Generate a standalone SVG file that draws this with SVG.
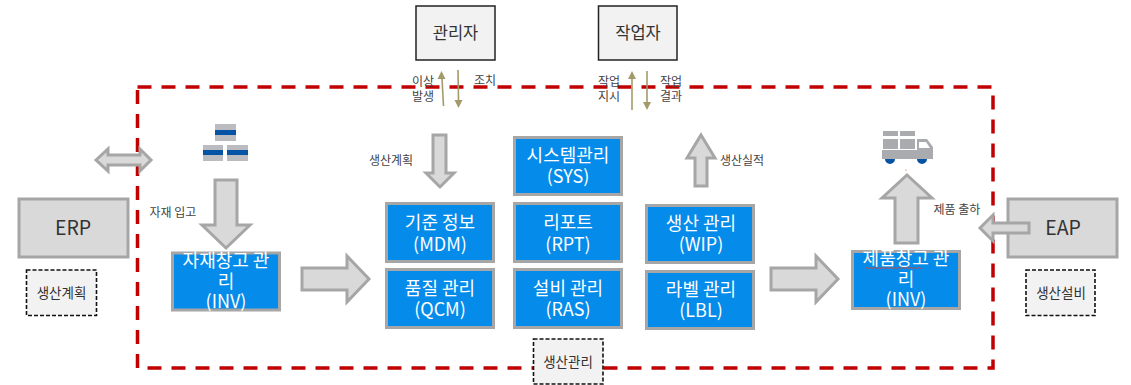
<svg xmlns="http://www.w3.org/2000/svg" width="1131" height="385" viewBox="0 0 1131 385">
<style>
text{font-family:"Noto Sans CJK KR","Noto Sans",sans-serif;text-anchor:middle}
.blue rect{fill:#058CEA;stroke:#A6A6A6;stroke-width:3}
.blue text{fill:#fff;font-size:18px}
.gray rect{fill:#D9D9D9;stroke:#A6A6A6;stroke-width:3}
.gray text{fill:#333;font-size:19.5px}
.white rect{fill:#F2F2F2;stroke:#222;stroke-width:1.5}
.white text{fill:#333;font-size:16.5px}
.tag rect{fill:#F2F2F2;stroke:#111;stroke-width:1.6;stroke-dasharray:4 2}
.tag text{fill:#333;font-size:13.5px}
.big{fill:#D9D9D9;stroke:#A6A6A6;stroke-width:3}
.thin{stroke:#A39A6B;stroke-width:1.6;fill:none}
.head{fill:#A39A6B}
.lbl{fill:#444;font-size:12px}
.ico{fill:#A9ABAF}
.band{fill:#0553A5}
</style>
<rect id="boundary" x="137.5" y="87" width="855.5" height="281" fill="none" stroke="#C00000" stroke-width="3.5" stroke-dasharray="14 10"/>
<g id="erp" class="gray"><rect x="19" y="199" width="109" height="58"/><text x="73" y="235">ERP</text></g>
<g id="eap" class="gray"><rect x="1008" y="199" width="109" height="58"/><text x="1063" y="235">EAP</text></g>
<g id="connectors">
<path class="big" d="M96 160L108 149V155H140V149L151 160L140 171V165H108V171Z"/>
<path class="big" d="M215 180H237V225H250L226 248L202 225H215Z"/>
<path class="big" d="M302 268H347V256L369 279L347 302V290H302Z"/>
<path class="big" d="M433 135H446V173H454L440 187L426 173H433Z"/>
<path class="big" d="M701 135L715 158H707V186H695V158H687Z"/>
<path class="big" d="M771 268H816V256L838 279L816 302V290H771Z"/>
<path class="big" d="M907 175L932 198H918V243H895V198H882Z"/>
<path class="big" d="M980 228L993 215V223H1029V233H993V241Z"/>
<path class="thin" d="M443.500 106L442 78"/><path class="head" d="M441.500 71L445.500 79H437.500Z"/>
<path class="thin" d="M458 70L458.500 100"/><path class="head" d="M458.500 108L454.500 100H462.500Z"/>
<path class="thin" d="M632 110V78"/><path class="head" d="M632 71L636 79H628Z"/>
<path class="thin" d="M647 71V102"/><path class="head" d="M647 110L643 102H651Z"/>
</g>
<g id="stack-icon">
<rect class="ico" x="215" y="124" width="21" height="17" opacity=".8"/><rect class="band" x="215" y="130" width="21" height="5"/>
<rect class="ico" x="203" y="145" width="20" height="16" opacity=".8"/><rect class="band" x="203" y="150" width="20" height="5"/>
<rect class="ico" x="227" y="145" width="21" height="16" opacity=".8"/><rect class="band" x="227" y="150" width="21" height="5"/>
</g>
<g id="truck-icon">
<rect class="ico" x="883" y="131" width="15" height="5"/><rect class="ico" x="900" y="131" width="15" height="5"/>
<rect class="ico" x="883" y="139" width="15" height="10"/><rect class="ico" x="900" y="139" width="15" height="10"/>
<path class="band" d="M885 159a5 5 0 0 0 10 0ZM917 159a5 5 0 0 0 10 0Z"/>
<path class="ico" d="M882 150H917V139H927L933 147V159H882Z"/>
<path fill="#fff" d="M919 142H926L930 148H919Z"/>
<circle cx="906" cy="170" r="1" fill="#F7C9B5"/>
</g>
<g id="manager" class="white"><rect x="416" y="6" width="79" height="54"/><text x="455.500" y="39">관리자</text></g>
<g id="worker" class="white"><rect x="598.500" y="6" width="78.500" height="54"/><text x="638" y="39">작업자</text></g>
<g id="tag-plan" class="tag"><rect x="26.500" y="270" width="70" height="45.500"/><text x="61.500" y="298">생산계획</text></g>
<g id="tag-equip" class="tag"><rect x="1026" y="270" width="69" height="45.500"/><text x="1061" y="298">생산설비</text></g>
<g id="tag-mgmt" class="tag"><rect x="533.500" y="339" width="69.500" height="45"/><text x="568" y="367">생산관리</text></g>
<g id="inv-in" class="blue"><rect x="172.500" y="253" width="107" height="57"/><text x="226" y="267">자재창고 관</text><text x="226" y="288">리</text><text x="226" y="308">(INV)</text></g>
<g id="mdm" class="blue"><rect x="386.500" y="203.500" width="107" height="58"/><text x="440" y="229">기준 정보</text><text x="440" y="251">(MDM)</text></g>
<g id="qcm" class="blue"><rect x="386.500" y="269.500" width="107" height="58"/><text x="440" y="295">품질 관리</text><text x="440" y="316">(QCM)</text></g>
<g id="sys" class="blue"><rect x="514.500" y="137.500" width="107" height="57"/><text x="568" y="162">시스템관리</text><text x="568" y="183">(SYS)</text></g>
<g id="rpt" class="blue"><rect x="514.500" y="203.500" width="107" height="58"/><text x="568" y="229">리포트</text><text x="568" y="251">(RPT)</text></g>
<g id="ras" class="blue"><rect x="514.500" y="269.500" width="107" height="58"/><text x="568" y="295">설비 관리</text><text x="568" y="316">(RAS)</text></g>
<g id="wip" class="blue"><rect x="646.500" y="205.500" width="107" height="57"/><text x="701" y="230">생산 관리</text><text x="701" y="251">(WIP)</text></g>
<g id="lbl" class="blue"><rect x="646.500" y="271.500" width="107" height="57"/><text x="701" y="296">라벨 관리</text><text x="701" y="317">(LBL)</text></g>
<g id="inv-out" class="blue"><rect x="852.500" y="251.500" width="107" height="57"/><text x="906" y="265">제품창고 관</text><text x="906" y="286">리</text><text x="906" y="306">(INV)</text>
<path d="M866 268q1-1.500 2 0t2 0 2 0 2 0 2 0 2 0 2 0 2 0 2 0 2 0 2 0 2 0 2 0 2 0 2 0 2 0 2 0 2 0 2 0 2 0 2 0 2 0 2 0 2 0 2 0 2 0 2 0 2 0" fill="none" stroke="#E0402A" stroke-width=".8"/></g>
<g id="labels">
<text class="lbl" x="423" y="86">이상</text><text class="lbl" x="423" y="101">발생</text><text class="lbl" x="485" y="85">조치</text>
<text class="lbl" x="609" y="86">작업</text><text class="lbl" x="609" y="101">지시</text><text class="lbl" x="671" y="86">작업</text><text class="lbl" x="671" y="101">결과</text>
<text class="lbl" x="391" y="165">생산계획</text><text class="lbl" x="742" y="165">생산실적</text>
<text class="lbl" x="173" y="217">자재 입고</text><text class="lbl" x="957" y="214">제품 출하</text>
</g>
</svg>
